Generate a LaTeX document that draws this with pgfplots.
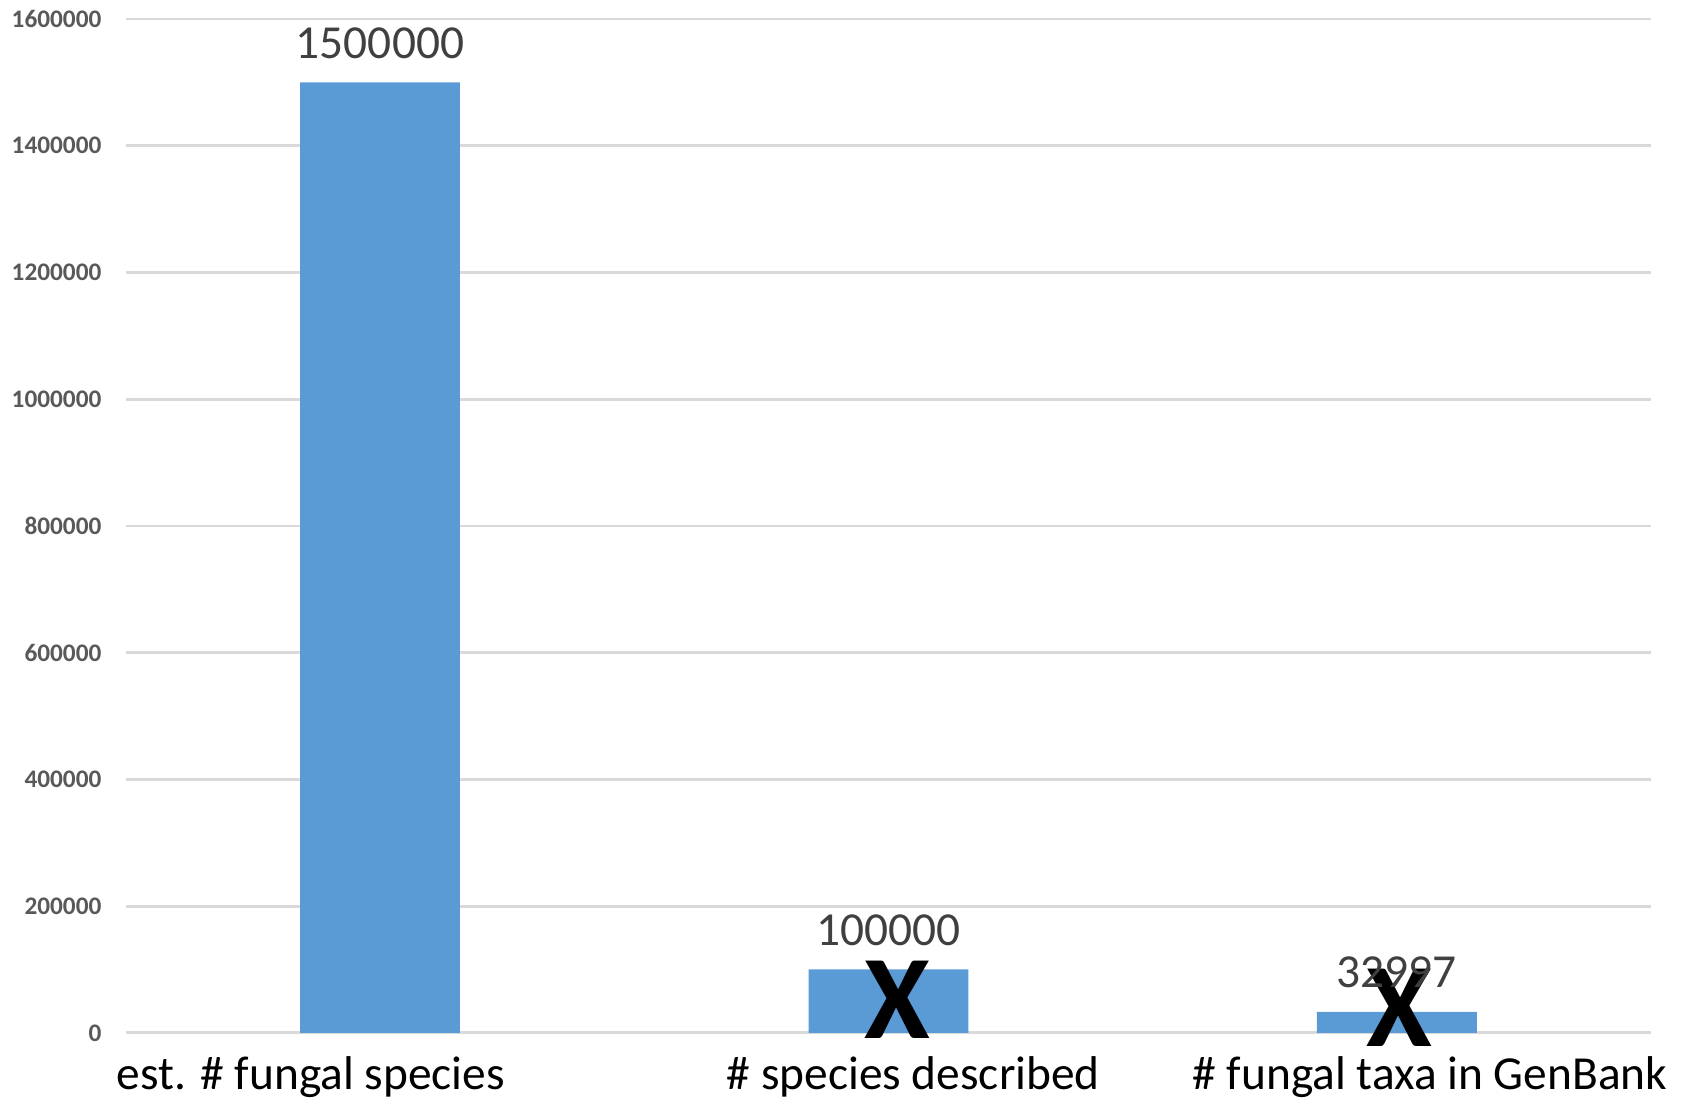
\documentclass[border=0pt]{standalone}
\usepackage{pgfplots}
\pgfplotsset{compat=1.18}
\usepackage{fontspec}
\setmainfont{Carlito}
\definecolor{barblue}{HTML}{5B9BD5}
\definecolor{gridgray}{HTML}{D9D9D9}
\definecolor{ticktext}{HTML}{595959}
\definecolor{valtext}{HTML}{404040}
\begin{document}
\begin{tikzpicture}
\begin{axis}[
  scale only axis,
  width=15.27cm, height=10.15cm,
  xmin=-0.5, xmax=2.5,
  ymin=0, ymax=1600000,
  ybar, bar width=16mm,
  axis line style={draw=none},
  xtick=\empty,
  ytick={0,200000,...,1600000},
  scaled y ticks=false,
  major tick length=0pt,
  ymajorgrids,
  grid style={gridgray, line width=0.8pt},
  /pgf/number format/assume math mode=true,
  yticklabel={\pgfmathprintnumber[fixed,precision=0,1000 sep={}]{\tick}},
  yticklabel style={font=\bfseries\fontsize{7.2}{8}\selectfont, text=ticktext, xshift=-1.2mm, inner ysep=0pt},
  point meta=explicit symbolic,
  nodes near coords,
  nodes near coords style={font=\fontsize{13.5}{15}\selectfont, text=valtext, anchor=base, yshift=2.4mm},
  clip=false,
]
\addplot[fill=barblue, draw=none] coordinates {
  (0,1500000) [1500000]
  (1,100000) [100000]
  (2,32997) [32997]
};
\node[anchor=base, inner sep=0pt, font=\fontsize{13.5}{15}\selectfont] at (axis cs:-0.136,-89800) {est. \# fungal species};
\node[anchor=base, inner sep=0pt, font=\fontsize{13.5}{15}\selectfont] at (axis cs:1.049,-89800) {\# species described};
\node[anchor=base, inner sep=0pt, font=\fontsize{13.5}{15}\selectfont] at (axis cs:2.065,-89800) {\# fungal taxa in GenBank};
\node[font=\bfseries\fontsize{34}{36}\selectfont, inner sep=0pt] at (axis cs:1.018,52000) {X};
\node[font=\bfseries\fontsize{34}{36}\selectfont, inner sep=0pt] at (axis cs:2.004,40000) {X};
\end{axis}
\path ([shift={(-1.24cm,-0.71cm)}]current axis.south west) ([shift={(0.35cm,0.19cm)}]current axis.north east);
\end{tikzpicture}
\end{document}
